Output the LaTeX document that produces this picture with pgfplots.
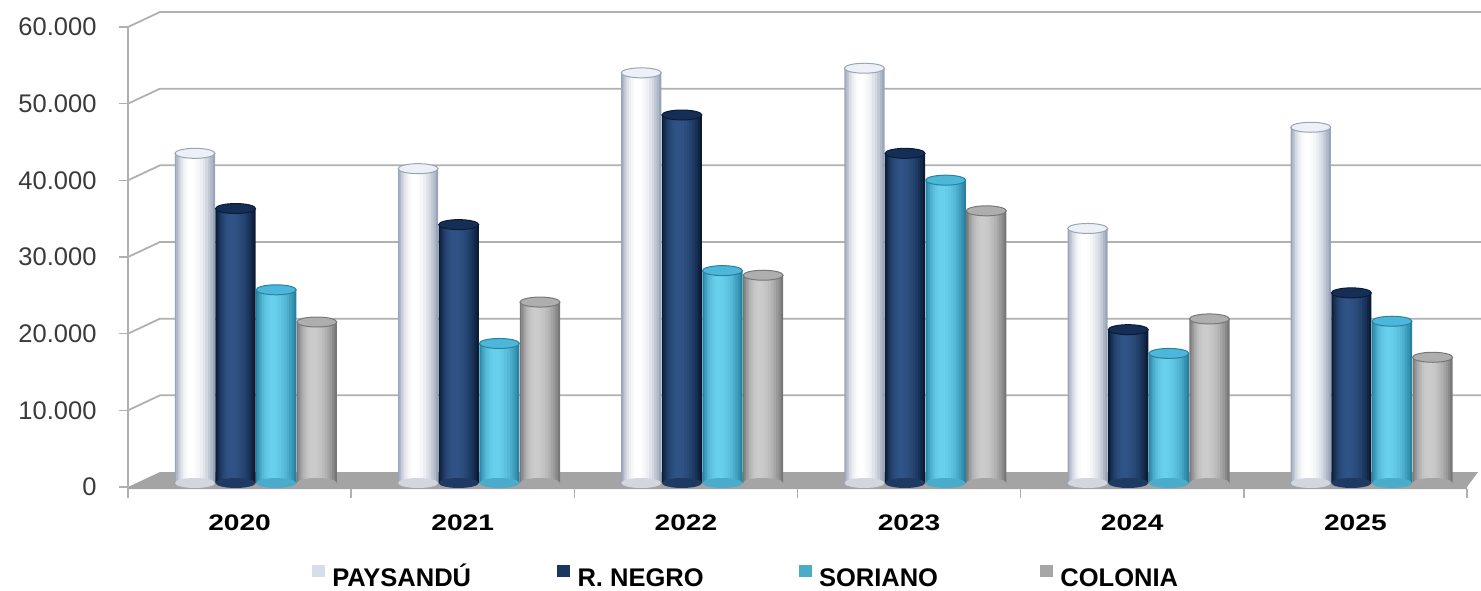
\documentclass[border=0pt]{standalone}
\usepackage{fontspec}
\setmainfont{Liberation Sans}
\newfontfamily\catfont[FakeStretch=1.25]{Liberation Sans}
\usepackage{pgfplots}
\usepackage{pgfplotstable}
\pgfplotsset{compat=1.18}

% palette
\definecolor{gridgray}{HTML}{B0B0B0}
\definecolor{floorgray}{HTML}{A4A4A4}
\definecolor{ticktext}{HTML}{3A3A3A}
\definecolor{legP}{HTML}{D6DEEC}
\definecolor{legR}{HTML}{1B365F}
\definecolor{legS}{HTML}{4BACC6}
\definecolor{legC}{HTML}{A6A6A6}
% edge / highlight / cap colours of the cylinders
\definecolor{pE}{HTML}{98A4B8}\definecolor{pH}{HTML}{FFFFFF}\definecolor{pT}{HTML}{EDF1F7}
\definecolor{rE}{HTML}{0A1B35}\definecolor{rH}{HTML}{2F5386}\definecolor{rT}{HTML}{152E56}
\definecolor{sE}{HTML}{2682A0}\definecolor{sH}{HTML}{68CFED}\definecolor{sT}{HTML}{4CB7D9}
\definecolor{cE}{HTML}{777777}\definecolor{cH}{HTML}{CBCBCB}\definecolor{cT}{HTML}{AEAEAE}

% elliptical caps of the cylinders
\pgfdeclareplotmark{cyltop}{%
  \pgfpathellipse{\pgfpointorigin}{\pgfpoint{20pt}{0pt}}{\pgfpoint{0pt}{5pt}}%
  \pgfusepathqfillstroke}
\pgfdeclareplotmark{cylbottom}{%
  \pgfpathellipse{\pgfpointorigin}{\pgfpoint{20pt}{0pt}}{\pgfpoint{0pt}{5pt}}%
  \pgfusepathqfill}

\pgfplotstableread{
year  P      R      S      C
2020  43000  35800  25200  21000
2021  41000  33700  18200  23600
2022  53500  48000  27700  27100
2023  54100  43000  39500  35500
2024  33200  20000  16900  21400
2025  46400  24800  21100  16400
}\datatable

% one series of cylinders: #1 column, #2 offset from the category centre,
% #3 edge colour, #4 highlight colour, #5 cap colour
\newcommand\cylinders[5]{%
  \addplot[forget plot, only marks, mark=cylbottom, mark options={fill=#4!55!#3, draw=none}]
    table[x expr=\coordindex+#2, y expr=0] {\datatable};
  \addplot[forget plot, ybar, bar shift=0, draw=none, bar width=0.180, fill=#3]
    table[x expr=\coordindex+#2, y=#1] {\datatable};
  \addplot[forget plot, ybar, bar shift=0, draw=none, bar width=0.164, fill=#4!22!#3]
    table[x expr=\coordindex+#2-0.002, y=#1] {\datatable};
  \addplot[forget plot, ybar, bar shift=0, draw=none, bar width=0.146, fill=#4!40!#3]
    table[x expr=\coordindex+#2-0.004, y=#1] {\datatable};
  \addplot[forget plot, ybar, bar shift=0, draw=none, bar width=0.128, fill=#4!56!#3]
    table[x expr=\coordindex+#2-0.006, y=#1] {\datatable};
  \addplot[forget plot, ybar, bar shift=0, draw=none, bar width=0.110, fill=#4!70!#3]
    table[x expr=\coordindex+#2-0.008, y=#1] {\datatable};
  \addplot[forget plot, ybar, bar shift=0, draw=none, bar width=0.090, fill=#4!81!#3]
    table[x expr=\coordindex+#2-0.010, y=#1] {\datatable};
  \addplot[forget plot, ybar, bar shift=0, draw=none, bar width=0.070, fill=#4!90!#3]
    table[x expr=\coordindex+#2-0.012, y=#1] {\datatable};
  \addplot[forget plot, ybar, bar shift=0, draw=none, bar width=0.048, fill=#4!96!#3]
    table[x expr=\coordindex+#2-0.014, y=#1] {\datatable};
  \addplot[forget plot, ybar, bar shift=0, draw=none, bar width=0.026, fill=#4]
    table[x expr=\coordindex+#2-0.015, y=#1] {\datatable};
  \addplot[forget plot, only marks, mark=cyltop, mark options={fill=#5, draw=#3, line width=1pt}]
    table[x expr=\coordindex+#2, y=#1] {\datatable};
}

\begin{document}
\begin{tikzpicture}[x=1pt,y=1pt]
\useasboundingbox (0,0) rectangle (1481,590);
% frame: value axis, back wall, floor and category labels
\begin{axis}[
  at={(128pt,103pt)}, anchor=south west,
  scale only axis, width=1339pt, height=460pt,
  xmin=-0.5, xmax=5.5, ymin=0, ymax=60000,
  clip=false,
  axis line style={draw=none},
  tick pos=left,
  ytick={0,10000,20000,30000,40000,50000,60000},
  scaled y ticks=false,
  /pgf/number format/.cd, fixed, 1000 sep={.}, assume math mode=true,
  /pgfplots/.cd,
  yticklabel style={font=\fontsize{25.5}{28}\selectfont, text=ticktext, xshift=-19pt},
  ytick style={draw=gridgray, line width=1.6pt},
  major tick length=9pt,
  tick align=outside,
  xtick={0,1,2,3,4,5},
  xticklabels={2020,2021,2022,2023,2024,2025},
  xtick style={draw=none},
  xticklabel style={font=\catfont\bfseries\fontsize{22.5}{25}\selectfont, text=black, yshift=-15pt},
]
  \pgfplotsinvokeforeach{10000,20000,30000,40000,50000,60000}{
    \draw[gridgray, line width=1.8pt] (axis cs:-0.5,#1) -- ++(32pt,15pt) -- ++(1321pt,0pt);
  }
  \fill[floorgray] (axis cs:-0.5,0) -- ++(32pt,15pt) -- ++(1318pt,0pt) -- (axis cs:5.5,0) -- ++(0pt,-2pt) -- ([yshift=-2pt]axis cs:-0.5,0) -- cycle;
  \draw[gridgray, line width=1.6pt] ([yshift=-10pt]axis cs:-0.5,0) -- (axis cs:-0.5,60000);
  \pgfplotsinvokeforeach{-0.5,0.5,1.5,2.5,3.5,4.5,5.5}{
    \draw[gridgray, line width=1.6pt] ([yshift=-2pt]axis cs:#1,0) -- ++(0pt,-9pt);
  }
\end{axis}
% cylinders, standing at mid depth of the floor
\begin{axis}[
  at={(128pt,107pt)}, anchor=south west,
  scale only axis, width=1339pt, height=460pt,
  xmin=-0.5, xmax=5.5, ymin=0, ymax=60000,
  clip=false, hide axis,
  legend columns=4,
  legend style={at={(axis description cs:0.4615,-0.1995)}, anchor=center,
    draw=none, fill=none, inner sep=0pt,
    nodes={text depth=0pt},
    font=\bfseries\fontsize{25.5}{27}\selectfont,
    /tikz/column 2/.style={column sep=84pt},
    /tikz/column 4/.style={column sep=93pt},
    /tikz/column 6/.style={column sep=100pt}},
]
  \cylinders{P}{(-0.200)}{pE}{pH}{pT}
  \cylinders{R}{(-0.018)}{rE}{rH}{rT}
  \cylinders{S}{(0.164)}{sE}{sH}{sT}
  \cylinders{C}{(0.346)}{cE}{cH}{cT}

  \addlegendimage{legend image code/.code={\fill[legP] (0pt,-1pt) rectangle (12pt,10pt);}}
  \addlegendentry{\hspace{6pt}PAYSANDÚ\vphantom{Ú}}
  \addlegendimage{legend image code/.code={\fill[legR] (0pt,-1pt) rectangle (12pt,10pt);}}
  \addlegendentry{\hspace{6pt}R. NEGRO\vphantom{Ú}}
  \addlegendimage{legend image code/.code={\fill[legS] (0pt,-1pt) rectangle (12pt,10pt);}}
  \addlegendentry{\hspace{6pt}SORIANO\vphantom{Ú}}
  \addlegendimage{legend image code/.code={\fill[legC] (0pt,-1pt) rectangle (12pt,10pt);}}
  \addlegendentry{\hspace{6pt}COLONIA\vphantom{Ú}}
\end{axis}
\end{tikzpicture}
\end{document}
